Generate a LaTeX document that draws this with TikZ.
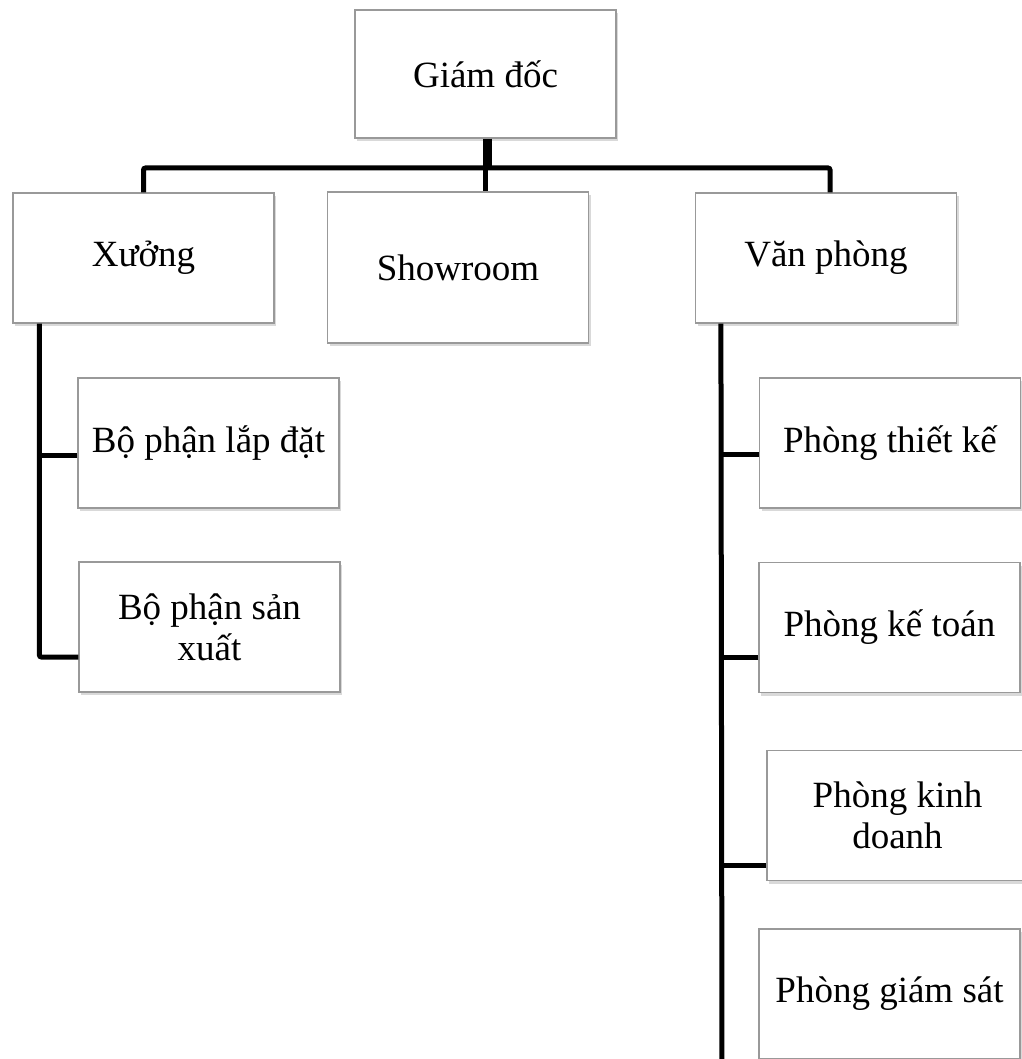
\documentclass[tikz,border=0pt]{standalone}
\usepackage{fontspec}
\setmainfont{Liberation Serif}
\usetikzlibrary{shadows}

\begin{document}
\begin{tikzpicture}[x=1pt,y=-1pt,
  unit/.style={draw=black!40,line width=1.2pt,fill=white,inner sep=4pt,
    minimum width=261pt,minimum height=130pt,align=center,
    font=\fontsize{37}{41}\selectfont,
    drop shadow={shadow xshift=2pt,shadow yshift=-3pt,opacity=0.3}},
  link/.style={line width=5pt,rounded corners=2pt}]

  \useasboundingbox (0,0) rectangle (1021,1059);

  % Top level: director and the three units

  \node [unit,minimum height=128pt] at (485.5,74) (gd) {Giám đốc};
  \node [unit] at (143.5,258) (xuong) {Xưởng};
  \node [unit,minimum height=151pt] at (458,267.5) (sr) {Showroom};
  \node [unit] at (826,258) (vp) {Văn phòng};

  % Workshop and its parts

  \node [unit] at (208.5,443) (bpld) {Bộ phận lắp đặt};
  \node [unit] at (209.5,627) (bpsx) {Bộ phận sản\\xuất};

  % Office and its departments

  \node [unit] at (890,443) (ptk) {Phòng thiết kế};
  \node [unit] at (889.5,627.5) (pkt) {Phòng kế toán};
  \node [unit] at (897.5,815.5) (pkd) {Phòng kinh\\doanh};
  \node [unit] at (889.5,994) (pgs) {Phòng giám sát};

  \coordinate (bar) at (gd.south |- 0,168);
  \coordinate (vpin) at ([xshift=4pt]vp.north);
  \coordinate (xt) at ([xshift=27pt]xuong.south west);
  \coordinate (vt) at ([xshift=26pt]vp.south west);
  \coordinate (vend) at (722,1075);
  \coordinate (bpldin) at ([yshift=-12pt]bpld.west);
  \coordinate (bpsxin) at ([yshift=-30pt]bpsx.west);
  \coordinate (ptkin) at ([yshift=-11pt]ptk.west);
  \coordinate (pktin) at ([yshift=-29.5pt]pkt.west);
  \coordinate (pkdin) at ([yshift=-49.5pt]pkd.west);

  \draw [link] (xuong.north) |- (bar) -| (vpin);
  \draw [link,line width=9pt] ([xshift=2pt]gd.south) -- ([xshift=2pt]bar);
  \draw [link] (bar) -- (gd.south |- sr.north);

  \draw [link] (xt) |- (bpsxin);
  \draw [link] (bpldin) -- (xt |- bpldin);

  \draw [link] (vt) -- (vend);
  \draw [link] (ptkin) -- (vt |- ptkin);
  \draw [link] (pktin) -- (vt |- pktin);
  \draw [link] (pkdin) -- (vt |- pkdin);

\end{tikzpicture}
\end{document}
